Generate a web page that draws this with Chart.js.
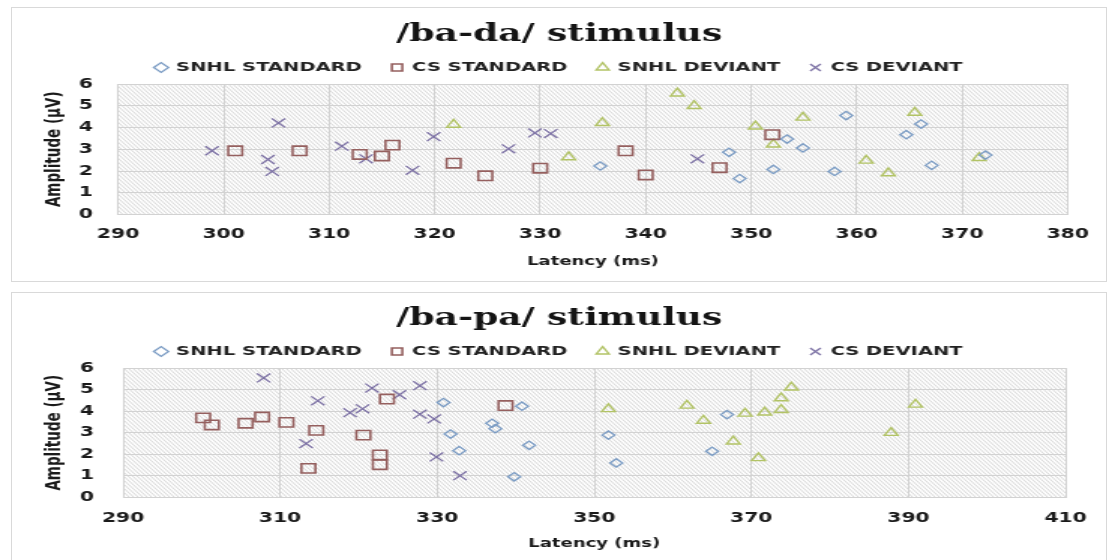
<!DOCTYPE html>
<html>
<head>
<meta charset="utf-8">
<script src="https://cdn.jsdelivr.net/npm/chart.js@4/dist/chart.umd.min.js"></script>
<style>
  html, body { margin: 0; padding: 0; background: #ffffff; width: 1119px; height: 560px; overflow: hidden; }
  .box { position: absolute; left: 11px; width: 1094px; border: 1px solid #d9d9d9; background: #fff; }
  #box1 { top: 7px; height: 273px; }
  #box2 { top: 292px; height: 268px; }
  canvas { display: block; }
</style>
</head>
<body>
<div class="box" id="box1"><canvas id="c1" width="729" height="273" style="width:1094px;height:273px"></canvas></div>
<div class="box" id="box2"><canvas id="c2" width="729" height="267" style="width:1094px;height:267px"></canvas></div>
<script>
// ---------- DATA ----------
const seriesNames = ['SNHL STANDARD', 'CS STANDARD', 'SNHL DEVIANT', 'CS DEVIANT'];
const titleBaDa = '/ba-da/ stimulus';
const titleBaPa = '/ba-pa/ stimulus';
const xAxisTitle = 'Latency (ms)';
const yAxisTitle = 'Amplitude (µV)';

// /ba-da/ (latency ms, amplitude µV)
const baDaSnhlStdX = [335.7, 347.9, 348.9, 352.1, 353.4, 354.9, 357.9, 359.0, 364.7, 366.1, 367.1, 372.2];
const baDaSnhlStdY = [2.23, 2.86, 1.65, 2.07, 3.47, 3.06, 1.98, 4.55, 3.67, 4.16, 2.26, 2.73];
const baDaCsStdX = [301.1, 307.2, 312.9, 315.0, 316.0, 321.8, 324.8, 330.0, 338.1, 340.0, 347.0, 352.0];
const baDaCsStdY = [2.93, 2.93, 2.76, 2.69, 3.19, 2.36, 1.78, 2.13, 2.93, 1.82, 2.15, 3.67];
const baDaSnhlDevX = [321.8, 332.7, 335.9, 343.0, 344.6, 350.4, 352.1, 354.9, 360.9, 363.0, 365.5, 371.6];
const baDaSnhlDevY = [4.13, 2.64, 4.21, 5.57, 4.99, 4.05, 3.22, 4.46, 2.48, 1.90, 4.68, 2.60];
const baDaCsDevX = [298.9, 304.2, 304.6, 305.2, 311.2, 313.5, 317.9, 319.9, 327.0, 329.5, 331.0, 344.9];
const baDaCsDevY = [2.93, 2.53, 1.98, 4.21, 3.14, 2.56, 2.03, 3.58, 3.02, 3.75, 3.72, 2.56];

// /ba-pa/
const baPaSnhlStdX = [330.8, 331.7, 332.8, 337.0, 337.4, 339.8, 340.8, 341.7, 351.8, 352.8, 365.0, 366.9];
const baPaSnhlStdY = [4.40, 2.94, 2.17, 3.44, 3.19, 0.96, 4.23, 2.42, 2.89, 1.60, 2.14, 3.84];
const baPaCsStdX = [300.2, 301.3, 305.6, 307.7, 310.8, 313.6, 314.6, 320.6, 322.7, 322.7, 323.6, 338.7];
const baPaCsStdY = [3.69, 3.36, 3.44, 3.73, 3.48, 1.35, 3.11, 2.89, 1.97, 1.52, 4.56, 4.26];
const baPaSnhlDevX = [351.8, 361.8, 363.9, 367.7, 369.2, 370.9, 371.7, 373.8, 373.8, 375.1, 387.8, 390.9];
const baPaSnhlDevY = [4.10, 4.26, 3.56, 2.60, 3.89, 1.83, 3.94, 4.60, 4.06, 5.10, 3.00, 4.31];
const baPaCsDevX = [307.9, 313.3, 314.8, 318.9, 320.5, 321.7, 325.2, 327.8, 327.8, 329.6, 329.9, 332.9];
const baPaCsDevY = [5.54, 2.50, 4.48, 3.93, 4.11, 5.07, 4.76, 5.18, 3.86, 3.64, 1.88, 1.01];

// axis ranges / ticks
const baDaXTicks = [290, 300, 310, 320, 330, 340, 350, 360, 370, 380];
const baPaXTicks = [290, 310, 330, 350, 370, 390, 410];
const yTicks = [0, 1, 2, 3, 4, 5, 6];

// ---------- STYLE ----------
const seriesStyle = [
  { color: '#7b9cc4', pointStyle: 'rectRot', radius: 4.2, width: 1.3 },
  { color: '#95605f', pointStyle: 'rect', radius: 6.6, width: 1.6 },
  { color: '#b2c366', pointStyle: 'triangle', radius: 5.2, width: 1.4 },
  { color: '#7d72a5', pointStyle: 'crossRot', radius: 6.3, width: 1.3 }
];

Chart.defaults.font.family = "'DejaVu Sans', sans-serif";
Chart.defaults.color = '#1a1a1a';

function zip(xs, ys) { return xs.map((x, i) => ({ x: x, y: ys[i] })); }

function makePattern() {
  const c = document.createElement('canvas');
  c.width = 3; c.height = 4;
  const g = c.getContext('2d');
  g.fillStyle = '#ffffff';
  g.fillRect(0, 0, 3, 4);
  g.strokeStyle = '#cdcdcd';
  g.lineWidth = 0.8;
  for (let k = -1; k <= 1; k++) {
    g.beginPath();
    g.moveTo(k * 3 - 3, -4);
    g.lineTo(k * 3 + 6, 8);
    g.stroke();
  }
  return c;
}

const hatchPlugin = {
  id: 'hatch',
  beforeDraw(chart) {
    const { ctx, chartArea: a } = chart;
    ctx.save();
    ctx.fillStyle = '#ffffff';
    ctx.fillRect(0, 0, chart.width, chart.height);
    ctx.fillStyle = ctx.createPattern(makePattern(), 'repeat');
    ctx.fillRect(a.left, a.top, a.right - a.left, a.bottom - a.top);
    ctx.restore();
  }
};

function build(canvasId, title, seriesXY, xTicks, L) {
  const datasets = seriesXY.map((xy, i) => ({
    label: seriesNames[i],
    data: zip(xy[0], xy[1]),
    pointStyle: seriesStyle[i].pointStyle,
    pointRadius: seriesStyle[i].radius,
    pointBorderWidth: seriesStyle[i].width,
    borderColor: seriesStyle[i].color,
    backgroundColor: 'rgba(0,0,0,0)',
    pointBackgroundColor: 'rgba(0,0,0,0)',
    showLine: false
  }));
  const padLeft = 20;
  const titleFontSize = 24, titleLH = 0.45;
  const titleH = titleFontSize * titleLH;
  const titleTop = L.titleY - titleH / 2;
  const titleBottom = L.titleY + titleH / 2;
  const legFont = 13;
  const legPad = L.plotTop - L.legendY - legFont / 2;
  const legTop = L.legendY - legFont / 2 - legPad;
  const tickFont = 13.5, tickLH = tickFont * 1.2;
  const xtFont = 12, xtLH = xtFont * 1.2;
  const ytFont = 13.5, ytLH = ytFont * 1.2;

  return new Chart(document.getElementById(canvasId), {
    type: 'scatter',
    data: { datasets: datasets },
    options: {
      responsive: false,
      devicePixelRatio: 1,
      animation: false,
      events: [],
      layout: { padding: { left: padLeft, top: 0, bottom: 0, right: L.W - L.plotRight } },
      plugins: {
        title: {
          display: true,
          text: title,
          color: '#141414',
          font: { family: "'DejaVu Serif', serif", size: titleFontSize, weight: 'bold', lineHeight: titleLH },
          padding: { top: titleTop, bottom: legTop - titleBottom }
        },
        legend: {
          display: true,
          position: 'top',
          labels: {
            usePointStyle: true,
            boxWidth: 7,
            boxHeight: 7,
            padding: legPad,
            color: '#222222',
            font: { size: legFont, weight: 'bold' }
          }
        },
        tooltip: { enabled: false }
      },
      scales: {
        x: {
          type: 'linear',
          min: xTicks[0],
          max: xTicks[xTicks.length - 1],
          afterBuildTicks: (s) => { s.ticks = xTicks.map(v => ({ value: v })); },
          afterFit: (s) => { s.height = L.H - L.plotBottom; },
          ticks: { padding: L.tickY - L.plotBottom - tickLH / 2, font: { size: tickFont, weight: 'bold' }, color: '#1a1a1a', maxRotation: 0 },
          grid: { color: '#d2d2d2', lineWidth: 1, drawTicks: false },
          border: { display: true, color: '#d2d2d2' },
          title: {
            display: true, text: xAxisTitle, color: '#1a1a1a',
            font: { size: xtFont, weight: 'bold' },
            padding: { top: 0, bottom: L.H - L.xTitleY - xtLH / 2 }
          }
        },
        y: {
          type: 'linear',
          min: yTicks[0],
          max: yTicks[yTicks.length - 1],
          afterBuildTicks: (s) => { s.ticks = yTicks.map(v => ({ value: v })); },
          afterFit: (s) => { s.width = L.plotLeft - padLeft; },
          ticks: { padding: L.plotLeft - L.yTickRight, font: { size: tickFont, weight: 'bold' }, color: '#1a1a1a' },
          grid: { color: '#d2d2d2', lineWidth: 1, drawTicks: false },
          border: { display: true, color: '#d2d2d2' },
          title: {
            display: true, text: yAxisTitle, color: '#1a1a1a',
            font: { size: ytFont, weight: 'bold' },
            padding: { top: Math.max(0, L.yTitleX - padLeft - ytLH / 2), bottom: 0 }
          }
        }
      }
    },
    plugins: [hatchPlugin]
  });
}

build('c1', titleBaDa, [
  [baDaSnhlStdX, baDaSnhlStdY],
  [baDaCsStdX, baDaCsStdY],
  [baDaSnhlDevX, baDaSnhlDevY],
  [baDaCsDevX, baDaCsDevY]
], baDaXTicks, {
  W: 729, H: 273, plotLeft: 70.7, plotRight: 709.3, plotTop: 86, plotBottom: 206.5,
  titleY: 27, legendY: 59.5, tickY: 226, xTitleY: 253.5, yTickRight: 54, yTitleX: 28.7
});

build('c2', titleBaPa, [
  [baPaSnhlStdX, baPaSnhlStdY],
  [baPaCsStdX, baPaCsStdY],
  [baPaSnhlDevX, baPaSnhlDevY],
  [baPaCsDevX, baPaCsDevY]
], baPaXTicks, {
  W: 729, H: 267, plotLeft: 74, plotRight: 709.3, plotTop: 85, plotBottom: 204.5,
  titleY: 26, legendY: 58.5, tickY: 225.5, xTitleY: 250.5, yTickRight: 54.7, yTitleX: 28.7
});
</script>
</body>
</html>
